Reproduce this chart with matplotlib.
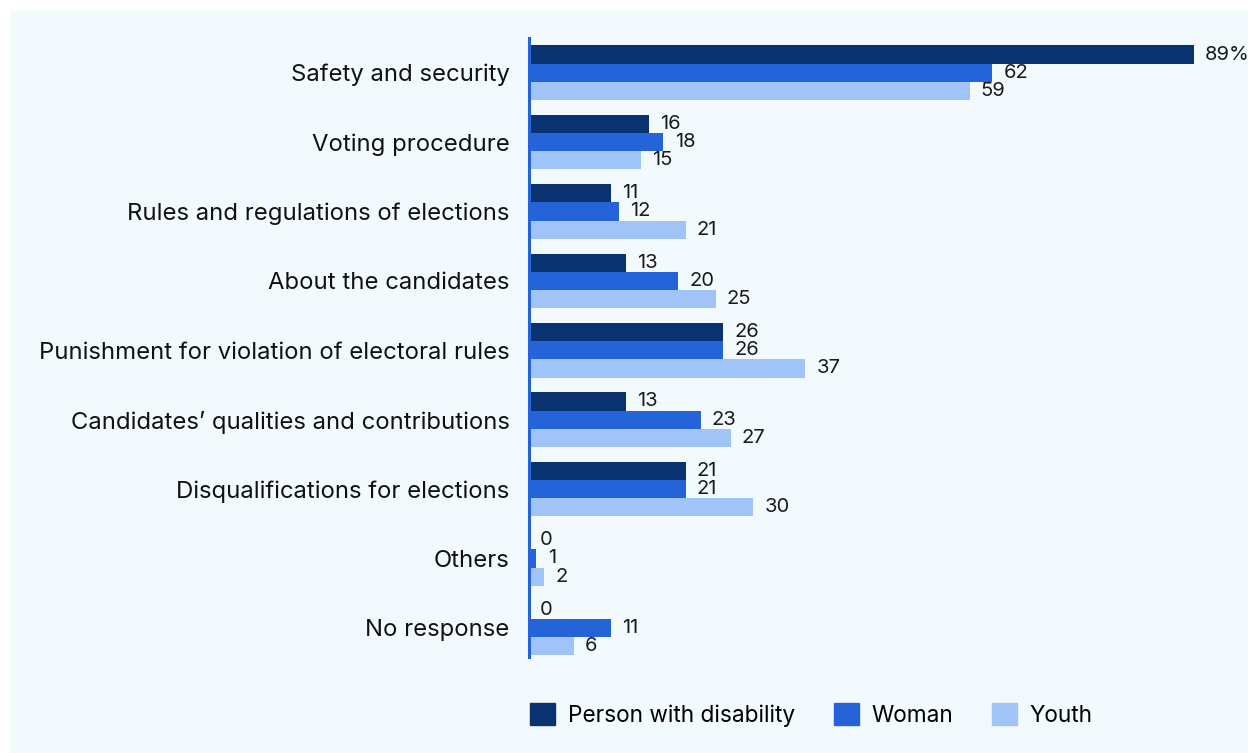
import numpy as np
import matplotlib.pyplot as plt
from matplotlib.patches import Rectangle

plt.rcParams["font.family"] = ["Inter", "DejaVu Sans"]

# === Data ===
categories = [
    "Safety and security",
    "Voting procedure",
    "Rules and regulations of elections",
    "About the candidates",
    "Punishment for violation of electoral rules",
    "Candidates\u2019 qualities and contributions",
    "Disqualifications for elections",
    "Others",
    "No response",
]
disability = [89, 16, 11, 13, 26, 13, 21, 0, 0]
woman = [62, 18, 12, 20, 26, 23, 21, 1, 11]
youth = [59, 15, 21, 25, 37, 27, 30, 2, 6]
series_names = ["Person with disability", "Woman", "Youth"]

colors = ["#0b3270", "#2563d9", "#a0c4f8"]
bg = "#f3fafe"
W, H = 1248, 753

fig = plt.figure(figsize=(W / 100, H / 100), dpi=100)
fig.patch.set_facecolor("white")
fig.patches.append(Rectangle((11 / W, 0), 1, 1 - 11 / H, transform=fig.transFigure,
                             facecolor=bg, edgecolor="none", zorder=-5))

# axes placed in pixel terms
left, right, top, bottom = 529, 1248, 38, 657
ax = fig.add_axes([left / W, 1 - bottom / H, (right - left) / W, (bottom - top) / H])
ax.set_facecolor("none")
ax.set_zorder(2)

px_per_unit = 7.47
ax.set_xlim(0, (right - left) / px_per_unit)
ax.set_ylim(8.42, -0.5)

y = np.arange(len(categories))
bh = 0.262
all_series = [disability, woman, youth]
for k, (vals, c) in enumerate(zip(all_series, colors)):
    pos = y + (k - 1) * bh
    ax.barh(pos, vals, height=bh, color=c, zorder=2)
    for i, (p, v) in enumerate(zip(pos, vals)):
        lab = f"{v}%" if (k == 0 and i == 0) else f"{v}"
        ax.annotate(lab, (v, p), xytext=(8, 0), textcoords="offset points",
                    va="center", ha="left", fontsize=14.5, color="#1a1a1a",
                    annotation_clip=False)

ax.set_yticks(y)
ax.set_yticklabels(categories, fontsize=17.2, color="#111111")
ax.tick_params(axis="y", length=0, pad=14)
ax.set_xticks([])
for s in ["top", "right", "bottom"]:
    ax.spines[s].set_visible(False)
ax.spines["left"].set_color("#2563d9")
ax.spines["left"].set_linewidth(2.2)

# legend
handles = [Rectangle((0, 0), 1, 1, color=c) for c in colors]
fig.legend(handles, series_names, loc="center left",
           bbox_to_anchor=(510 / W, 1 - 715 / H), ncol=3, frameon=False,
           fontsize=16.3, handlelength=1.1, handleheight=1.1,
           handletextpad=0.55, columnspacing=1.72)

plt.savefig("out.png", dpi=100, facecolor=fig.get_facecolor())
